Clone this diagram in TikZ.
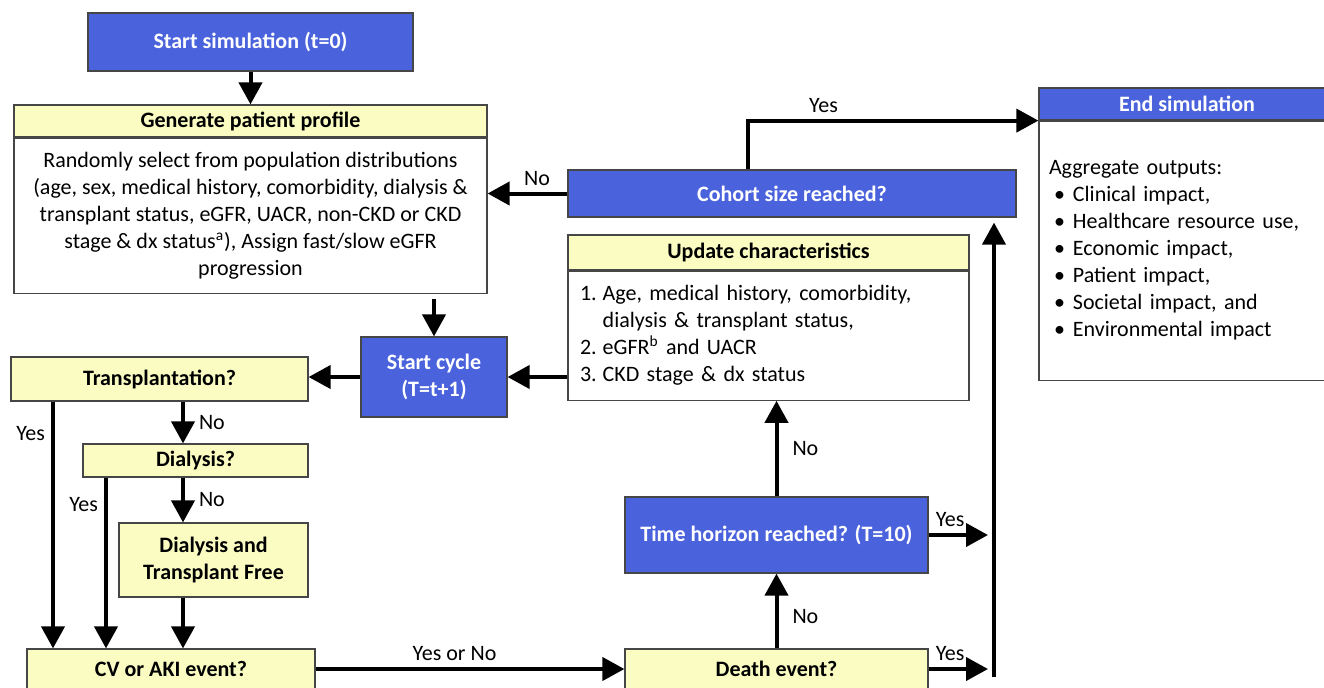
\documentclass[tikz,border=0pt]{standalone}
\usepackage{fontspec}
\setmainfont{Carlito}
\usetikzlibrary{arrows.meta,positioning}
\definecolor{simblue}{RGB}{74,98,220}
\definecolor{simyellow}{RGB}{250,252,194}
\definecolor{boxline}{RGB}{70,70,70}

\begin{document}
\begin{tikzpicture}[x=0.5pt,y=-0.5pt,font=\fontsize{11}{13.5}\selectfont]
	\tikzstyle{bluebox}=[draw=boxline,fill=simblue,text=white,font=\fontsize{11}{13.5}\selectfont\bfseries,inner sep=0pt,align=center,line width=0.6pt]
	\tikzstyle{yellowbox}=[draw=boxline,fill=simyellow,font=\fontsize{11}{13.5}\selectfont\bfseries,inner sep=0pt,align=center,line width=0.6pt]
	\tikzstyle{whitebox}=[draw=boxline,fill=white,inner sep=0pt,line width=0.6pt]
	\tikzstyle{arr}=[-{Triangle[length=11pt,width=11.5pt]},line width=2pt]
	\tikzstyle{lbl}=[inner sep=3pt]
	\useasboundingbox (0,0) rectangle (1324,687);
	% boxes
	\node[bluebox,minimum width=162.5pt,minimum height=29pt] (start) at (250.5,42) {Start simulation (t=0)};
	\node[yellowbox,minimum width=236.5pt,minimum height=16pt] (genhead) at (250.5,121) {Generate patient profile};
	\node[whitebox,align=center,minimum width=236.5pt,minimum height=77.5pt,below=0pt of genhead] (genbody)
		{Randomly select from population distributions\\(age, sex, medical history, comorbidity, dialysis \&\\transplant status, eGFR, UACR, non-CKD or CKD\\stage \& dx status\textsuperscript{a}), Assign fast/slow eGFR\\progression};
	\node[bluebox,minimum width=224pt,minimum height=23.5pt] (cohort) at (792,193.5) {Cohort size reached?};
	\node[bluebox,minimum width=148pt,minimum height=16pt] (endhead) at (1187,104) {End simulation};
	\node[whitebox,align=left,text width=138pt,inner xsep=5pt,minimum height=129.5pt,below=0pt of endhead] (endbody)
		{Aggregate outputs:\\
		\hspace*{2.5pt}\textbullet\hspace{4pt}Clinical impact,\\
		\hspace*{2.5pt}\textbullet\hspace{4pt}Healthcare resource use,\\
		\hspace*{2.5pt}\textbullet\hspace{4pt}Economic impact,\\
		\hspace*{2.5pt}\textbullet\hspace{4pt}Patient impact,\\
		\hspace*{2.5pt}\textbullet\hspace{4pt}Societal impact, and\\
		\hspace*{2.5pt}\textbullet\hspace{4pt}Environmental impact};
	\node[yellowbox,minimum width=200.5pt,minimum height=17.5pt] (updhead) at (768.5,252.5) {Update characteristics};
	\node[whitebox,align=left,text width=188.5pt,inner xsep=6pt,minimum height=64.5pt,below=0pt of updhead] (updbody)
		{\begin{tabular}{@{}l@{\hspace{3pt}}l@{}}
		1. & Age, medical history, comorbidity,\\
		   & dialysis \& transplant status,\\
		2. & eGFR\textsuperscript{b} and UACR\\
		3. & CKD stage \& dx status
		\end{tabular}};
	\node[bluebox,minimum width=73pt,minimum height=40pt] (cycle) at (434,377) {Start cycle\\(T=t+1)};
	\node[yellowbox,minimum width=148.5pt,minimum height=22pt] (transp) at (159.5,379) {Transplantation?};
	\node[yellowbox,minimum width=112.5pt,minimum height=16.5pt] (dialysis) at (195.5,460.5) {Dialysis?};
	\node[yellowbox,minimum width=94.5pt,minimum height=37pt] (free) at (213.5,560) {Dialysis and\\Transplant Free};
	\node[yellowbox,minimum width=144pt,minimum height=20pt] (cv) at (171,669) {CV or AKI event?};
	\node[bluebox,minimum width=151.5pt,minimum height=38pt] (time) at (776.5,535) {Time horizon reached? (T=10)};
	\node[yellowbox,minimum width=151.5pt,minimum height=20pt] (death) at (776.5,669) {Death event?};
	% lanes for the vertical connectors
	\coordinate (yesA) at (53,0);
	\coordinate (yesB) at (106,0);
	\coordinate (noX) at (183,0);
	\coordinate (yesTop) at (748,0);
	\coordinate (sideX) at (994,0);
	\coordinate (sideBot) at (994,677);
	% connectors
	\draw[arr] (start) -- (genhead);
	\draw[arr,shorten <=2.5pt] (genbody.south -| cycle.north) -- (cycle.north);
	\draw[arr] (cycle.west) -- (cycle.west -| transp.east);
	\draw[arr] (cycle.east -| updbody.west) -- (cycle.east);
	\draw[arr] (cohort.west) -- (cohort.west -| genbody.east) node[lbl,pos=.38,above] (lNoGen) {No};
	\draw[arr] (cohort.north -| yesTop) |- (endbody.north west) node[lbl,pos=.63,above] (lYesEnd) {Yes};
	\draw[arr] (transp.south -| yesA) -- (cv.north -| yesA) node[lbl,pos=.13,left] (lYesT) {Yes};
	\draw[arr] (transp.south -| noX) -- (dialysis.north -| noX) node[lbl,midway,right=4pt] (lNoT) {No};
	\draw[arr] (dialysis.south -| yesB) -- (cv.north -| yesB) node[lbl,pos=.16,left] (lYesD) {Yes};
	\draw[arr] (dialysis.south -| noX) -- (free.north -| noX) node[lbl,midway,right=4pt] (lNoD) {No};
	\draw[arr] (free.south -| noX) -- (cv.north -| noX);
	\draw[arr] (cv.east) -- (death.west) node[lbl,pos=.45,above] (lEither) {Yes or No};
	\draw[arr] (death.north) -- (time.south) node[lbl,pos=.42,right=4pt] (lNoDeath) {No};
	\draw[arr] (time.north) -- (time.north |- updbody.south) node[lbl,midway,right=4pt] (lNoTime) {No};
	\draw[arr,shorten >=3pt] (time.east) -- (time.east -| sideX) node[lbl,pos=.33,above] (lYesTime) {Yes};
	\draw[arr,shorten >=3pt] (death.east) -- (death.east -| sideX) node[lbl,pos=.33,above] (lYesDeath) {Yes};
	\draw[arr,shorten >=2.5pt] (sideBot) -- (cohort.south -| sideX);
\end{tikzpicture}
\end{document}
